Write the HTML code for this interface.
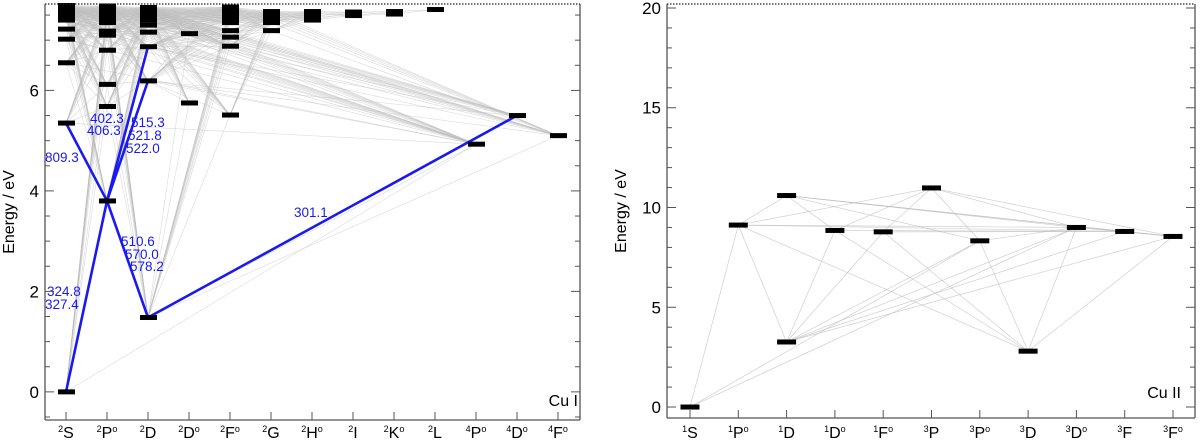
<!DOCTYPE html>
<html><head><meta charset="utf-8"><style>
html,body{margin:0;padding:0;background:#fff}
svg{display:block;font-family:"Liberation Sans",sans-serif}
</style></head><body>
<svg id="chart" width="1200" height="444" viewBox="0 0 1200 444">
<g id="left"></g>
<g id="right"></g>
</svg>
<script>
// ---------- Cu I data ----------
const cu1Terms = ["S","P","D","D","F","G","H","I","K","L","P","D","F"];
const cu1Mult = [2,2,2,2,2,2,2,2,2,2,4,4,4];
const cu1Odd = [0,1,0,1,1,0,1,0,1,0,1,1,1];
const cu1L = [0,1,2,2,3,4,5,6,7,8,1,2,3];
const cu1Levels = [
 [0,5.35,6.55,7.02,7.22,7.40,7.48,7.53,7.58,7.62,7.66,7.69],
 [3.80,5.68,6.12,6.80,7.10,7.18,7.35,7.42,7.48,7.53,7.57,7.61,7.65,7.68],
 [1.48,6.19,6.87,7.16,7.30,7.40,7.47,7.52,7.57,7.61,7.65],
 [5.75,7.13],
 [5.51,6.88,7.06,7.19,7.35,7.42,7.48,7.53,7.58,7.62,7.66],
 [7.19,7.35,7.42,7.48,7.53,7.57],
 [7.40,7.47,7.53,7.57],
 [7.49,7.56],
 [7.52,7.57],
 [7.61],
 [4.93],[5.50],[5.10]
];
const cu1Blue = [[0,0,1,3.80],[0,5.35,1,3.80],[1,3.80,2,6.19],[1,3.80,2,6.87],[1,3.80,2,1.48],[2,1.48,11,5.50]];
const cu1Labels = ["324.8","327.4","809.3","402.3","406.3","515.3","521.8","522.0","510.6","570.0","578.2","301.1"];
const cu1LabelPos = [[47,296],[45,309],[45,162],[90,123],[87,135],[131,127],[128,140],[126,153],[121,246],[125,259],[130,271],[294,217]];
const cu1YTicks = [0,2,4,6];

// ---------- Cu II data ----------
const cu2Terms = ["S","P","D","D","F","P","P","D","D","F","F"];
const cu2Mult = [1,1,1,1,1,3,3,3,3,3,3];
const cu2Odd = [0,1,0,1,1,0,1,0,1,0,1];
const cu2LevelCol = [0,1,2,2,3,4,5,6,7,8,9,10];
const cu2LevelE = [0,9.12,3.26,10.6,8.85,8.78,10.98,8.33,2.80,9.0,8.8,8.55];
const cu2Trans = [[0,1],[0,7],[0,9],[1,2],[1,3],[1,6],[1,8],[1,9],[1,10],[3,4],[3,7],[3,9],[3,10],[3,11],[2,4],[2,5],[2,7],[2,9],[2,11],[2,10],[4,6],[4,8],[4,10],[5,6],[5,8],[5,10],[6,7],[6,9],[6,11],[8,7],[8,9],[8,11],[7,9],[9,10],[10,11],[9,11]];
const cu2YTicks = [0,5,10,15,20];

const NS="http://www.w3.org/2000/svg";
function mk(parent,tag,attrs,text){const e=document.createElementNS(NS,tag);for(const k in attrs)e.setAttribute(k,attrs[k]);if(text!==undefined)e.textContent=text;parent.appendChild(e);return e;}

function panel(g,cfg){
  const {x0,x1,y0,y1,eMin,eMax,colX0,colDx}=cfg;
  const Y=e=>y1-(e-eMin)/(eMax-eMin)*(y1-y0);
  const X=c=>colX0+c*colDx;
  return {X,Y};
}
function axes(g,cfg,X,Y,majors,minorStep,terms,mult,odd,label,lblX,lblY,titleX){
  const {x0,x1,y0,y1,eMin,eMax}=cfg;
  let a=mk(g,"line",{x1:x0,y1:y0,x2:x0,y2:y1,stroke:"#555","stroke-width":1.3});
  
  a=mk(g,"line",{x1:x1,y1:y0,x2:x1,y2:y1,stroke:"#555","stroke-width":1.3});
  
  a=mk(g,"line",{x1:x0,y1:y1,x2:x1,y2:y1,stroke:"#555","stroke-width":1.3});
  
  a=mk(g,"line",{x1:x0,y1:y0,x2:x1,y2:y0,stroke:"#222","stroke-width":1.3,"stroke-dasharray":"1.5,1.5"});
  
  for(let e=Math.ceil(eMin/minorStep)*minorStep;e<=eMax+1e-9;e+=minorStep){
    const y=Y(e);const maj=majors.some(m=>Math.abs(m-e)<1e-6);const l=maj?9:5;
    mk(g,"line",{x1:x0,y1:y,x2:x0+l,y2:y,stroke:"#555","stroke-width":1});
    mk(g,"line",{x1:x1-l,y1:y,x2:x1,y2:y,stroke:"#555","stroke-width":1});
  }
  majors.forEach(m=>{const t=mk(g,"text",{x:x0-6,y:Y(m)+6,"text-anchor":"end","font-size":17,fill:"#000"},String(m));
    });
  terms.forEach((tm,i)=>{const x=X(i);
    mk(g,"line",{x1:x,y1:y1,x2:x,y2:y1-8,stroke:"#555","stroke-width":1});
    const t=mk(g,"text",{x:x,y:438,"text-anchor":"middle","font-size":16,fill:"#000"});
    
    mk(t,"tspan",{"font-size":9,dy:-6},String(mult[i]));
    mk(t,"tspan",{dy:6},tm);
    if(odd[i])mk(t,"tspan",{"font-size":9,dy:-6},"o");
  });
  const t=mk(g,"text",{x:lblX,y:lblY,"text-anchor":"end","font-size":16,fill:"#000"},label);
  
  const yc=(y0+y1)/2;
  const tt=mk(g,"text",{x:titleX,y:yc,"text-anchor":"middle","font-size":16,fill:"#000",transform:`rotate(-90 ${titleX} ${yc})`},"Energy / eV");
  
}

// ----- Left panel -----
(function(){
  const g=document.getElementById("left");
  const cfg={x0:45,x1:580,y0:4,y1:420,eMin:-0.56,eMax:7.72,colX0:66,colDx:41};
  const {X,Y}=panel(g,cfg);
  const lines=mk(g,"g",{});
  
  for(let i=0;i<cu1Levels.length;i++)for(let j=i+1;j<cu1Levels.length;j++){
    if(cu1Odd[i]===cu1Odd[j])continue;
    if(Math.abs(cu1L[i]-cu1L[j])>1)continue;
    cu1Levels[i].forEach(ei=>cu1Levels[j].forEach(ej=>{
      mk(lines,"line",{x1:X(i),y1:Y(ei),x2:X(j),y2:Y(ej),stroke:"#bbb","stroke-width":0.6,"stroke-opacity":0.55});
    }));
  }
  cu1Blue.forEach(b=>{const l=mk(g,"line",{x1:X(b[0]),y1:Y(b[1]),x2:X(b[2]),y2:Y(b[3]),stroke:"#1a1aee","stroke-width":2.6});
    });
  cu1Levels.forEach((arr,c)=>arr.forEach(e=>{const r=mk(g,"rect",{x:X(c)-8,y:Y(e)-2.5,width:17,height:5,fill:"#000"});
    }));
  cu1Labels.forEach((s,i)=>{const t=mk(g,"text",{x:cu1LabelPos[i][0],y:cu1LabelPos[i][1],"font-size":13.5,fill:"#1a1aee"},s);
    });
  axes(g,cfg,X,Y,cu1YTicks,0.5,cu1Terms,cu1Mult,cu1Odd,"Cu I",578,406,14);
})();

// ----- Right panel -----
(function(){
  const g=document.getElementById("right");
  const cfg={x0:667,x1:1195,y0:4,y1:418,eMin:-0.55,eMax:20.2,colX0:690,colDx:48.3};
  const {X,Y}=panel(g,cfg);
  const lines=mk(g,"g",{});
  
  cu2Trans.forEach(p=>{const a=p[0],b=p[1];
    mk(lines,"line",{x1:X(cu2LevelCol[a]),y1:Y(cu2LevelE[a]),x2:X(cu2LevelCol[b]),y2:Y(cu2LevelE[b]),stroke:"#bbb","stroke-width":0.7,"stroke-opacity":0.7});});
  cu2LevelE.forEach((e,i)=>{const r=mk(g,"rect",{x:X(cu2LevelCol[i])-9.5,y:Y(e)-2.5,width:19,height:5,fill:"#000"});
    });
  axes(g,cfg,X,Y,cu2YTicks,1,cu2Terms,cu2Mult,cu2Odd,"Cu II",1181,398,626);
})();
</script>
</body></html>
